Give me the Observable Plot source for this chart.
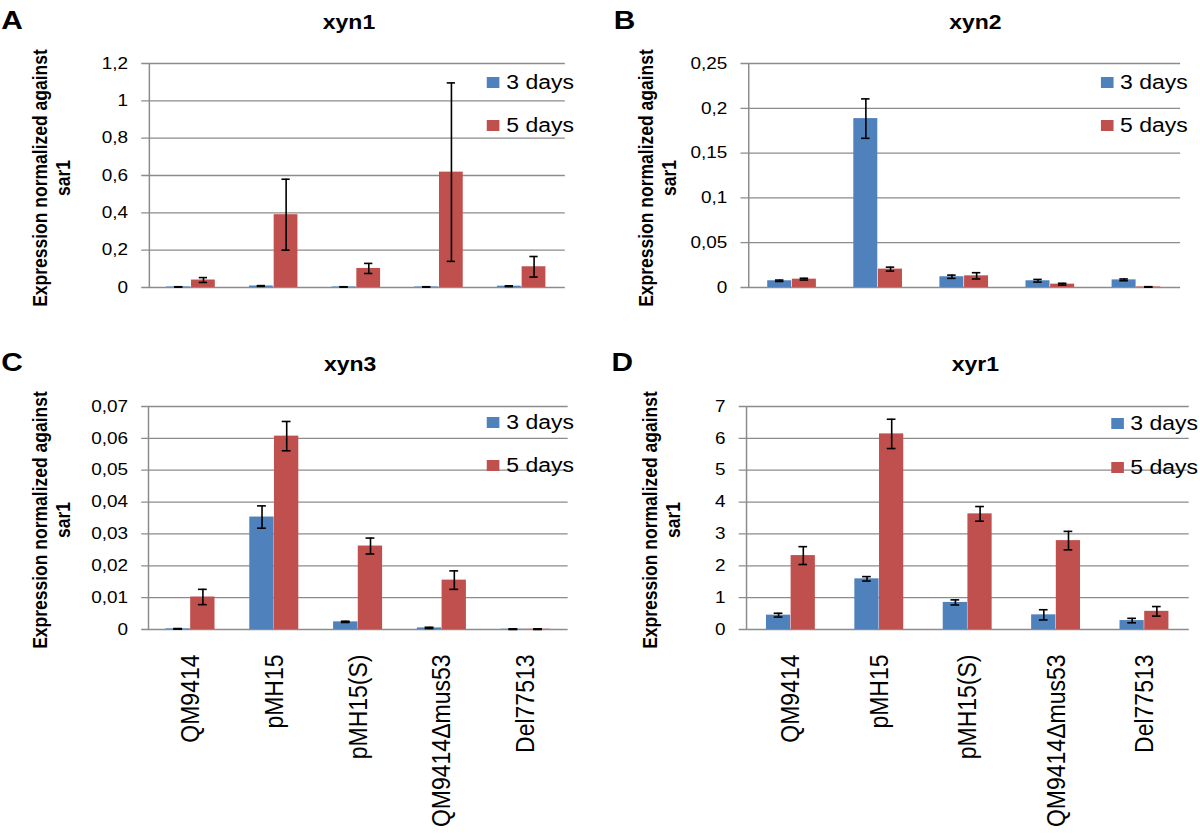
<!DOCTYPE html>
<html>
<head>
<meta charset="utf-8">
<script src="https://cdn.jsdelivr.net/npm/d3@7"></script>
<script src="https://cdn.jsdelivr.net/npm/@observablehq/plot@0.6"></script>
<style>
  body { margin: 0; background: #fff; font-family: "Liberation Sans", Arial, Helvetica, sans-serif; }
  #outer { position: relative; width: 1200px; height: 835px; overflow: hidden; background: #fff; }
  #root { position: absolute; left: 0; top: 0; height: 835px; transform-origin: 0 0; }
  .abs { position: absolute; }
  .letter { font-weight: bold; font-size: 26px; line-height: 1; }
  .title { font-weight: bold; font-size: 20px; line-height: 1; transform: translateX(-50%); white-space: nowrap; }
  .ylab { font-weight: bold; font-size: 17.5px; line-height: 20px; text-align: center; width: 320px; height: 40px;
          transform: rotate(-90deg); transform-origin: 50% 50%; white-space: nowrap; }
  .leg { display: flex; align-items: center; font-size: 20px; line-height: 1; white-space: nowrap; }
  .sw { width: 11px; height: 11px; margin-right: 6px; flex: none; }
</style>
</head>
<body>
<div id="outer"><div id="root"></div></div>
<script>
// ---------- data ----------
const categories = ["QM9414", "pMH15", "pMH15(S)", "QM9414\u0394mus53", "Del77513"];
const seriesNames = ["3 days", "5 days"];
const seriesColors = ["#4f81bd", "#c0504d"];
const yAxisTitle = ["Expression normalized against", "sar1"];

// xyn1
const xyn1_3d = [0.003, 0.008, 0.003, 0.003, 0.007];
const xyn1_3d_err = [0.001, 0.002, 0.001, 0.001, 0.002];
const xyn1_5d = [0.04, 0.39, 0.102, 0.618, 0.111];
const xyn1_5d_err = [0.013, 0.19, 0.027, 0.478, 0.055];
const xyn1_ticks = [0, 0.2, 0.4, 0.6, 0.8, 1, 1.2];

// xyn2
const xyn2_3d = [0.0075, 0.1885, 0.012, 0.0075, 0.0085];
const xyn2_3d_err = [0.0008, 0.022, 0.0018, 0.0015, 0.001];
const xyn2_5d = [0.0093, 0.0205, 0.013, 0.0037, 0.0006];
const xyn2_5d_err = [0.001, 0.0022, 0.0035, 0.001, 0.0003];
const xyn2_ticks = [0, 0.05, 0.1, 0.15, 0.2, 0.25];

// xyn3
const xyn3_3d = [0.0002, 0.0353, 0.0024, 0.0005, 0.0001];
const xyn3_3d_err = [0.0001, 0.0035, 0.0002, 0.0002, 0.0001];
const xyn3_5d = [0.0102, 0.0607, 0.0262, 0.0155, 0.0001];
const xyn3_5d_err = [0.0024, 0.0046, 0.0025, 0.0029, 0.0001];
const xyn3_ticks = [0, 0.01, 0.02, 0.03, 0.04, 0.05, 0.06, 0.07];

// xyr1
const xyr1_3d = [0.45, 1.59, 0.85, 0.46, 0.28];
const xyr1_3d_err = [0.06, 0.07, 0.08, 0.16, 0.07];
const xyr1_5d = [2.32, 6.14, 3.63, 2.79, 0.57];
const xyr1_5d_err = [0.28, 0.46, 0.23, 0.29, 0.15];
const xyr1_ticks = [0, 1, 2, 3, 4, 5, 6, 7];

// ---------- rendering ----------
// The reference figure is stretched horizontally; draw in an unstretched
// coordinate space and stretch the whole page horizontally.
const S = 1.148;
const PW = 600 / S;           // panel width in drawing space
const GRID = "#8c8c8c";
const fmt = d => String(+d.toFixed(4)).replace(".", ",");
const root = document.getElementById("root");
root.style.width = (1200 / S) + "px";
root.style.transform = `scaleX(${S})`;

function addDiv(cls, text, style) {
  const el = document.createElement("div");
  el.className = "abs " + cls;
  if (text != null) el.textContent = text;
  Object.assign(el.style, style);
  root.appendChild(el);
  return el;
}

function makePanel(p) {
  const rows = [];
  categories.forEach((c, i) => {
    rows.push({cat: c, s: 0, v: p.v3[i], e: p.e3[i]});
    rows.push({cat: c, s: 1, v: p.v5[i], e: p.e5[i]});
  });
  const r3 = rows.filter(d => d.s === 0);
  const r5 = rows.filter(d => d.s === 1);
  const width = PW;
  const mr = width - p.plotEnd;
  const bw = (width - p.ml - mr) / categories.length;
  const h = bw / 2, bar = 21.5, cap = 8;
  const yMax = p.ticks[p.ticks.length - 1];

  const errMarks = (data, off) => [
    Plot.ruleX(data, {x: "cat", y1: d => d.v - d.e, y2: d => d.v + d.e, dx: off, stroke: "black", strokeWidth: 1.4}),
    Plot.tickY(data, {x: "cat", y: d => d.v + d.e, insetLeft: h + off - cap / 2, insetRight: h - off - cap / 2, stroke: "black", strokeWidth: 1.6}),
    Plot.tickY(data, {x: "cat", y: d => d.v - d.e, insetLeft: h + off - cap / 2, insetRight: h - off - cap / 2, stroke: "black", strokeWidth: 1.6})
  ];

  const marks = [
    Plot.ruleY(p.ticks, {stroke: GRID, strokeWidth: 1.3, insetLeft: -5}),
    Plot.ruleX([categories[0]], {x: d => d, y1: 0, y2: yMax, dx: -h, stroke: GRID, strokeWidth: 1.3}),
    Plot.barY(r3, {x: "cat", y: "v", fill: seriesColors[0], insetLeft: h - bar, insetRight: h}),
    Plot.barY(r5, {x: "cat", y: "v", fill: seriesColors[1], insetLeft: h, insetRight: h - bar}),
    ...errMarks(r3, -bar / 2),
    ...errMarks(r5, bar / 2),
    Plot.axisY({ticks: p.ticks, tickFormat: fmt, tickSize: 0, tickPadding: 17, fontSize: 16.5, label: null})
  ];
  if (p.showX) {
    marks.push(Plot.axisX({tickRotate: -90, tickSize: 0, tickPadding: 25, fontSize: 23, label: null}));
  }
  const chart = Plot.plot({
    width, height: p.height,
    marginLeft: p.ml, marginRight: mr, marginTop: p.mt, marginBottom: p.mb,
    style: {fontFamily: "'Liberation Sans', Arial, Helvetica, sans-serif", background: "transparent", overflow: "visible", color: "black"},
    x: {type: "band", domain: categories, padding: 0, axis: p.showX ? undefined : null, label: null},
    y: {domain: [0, yMax], label: null},
    marks
  });
  const wrap = document.createElement("div");
  wrap.className = "abs";
  wrap.style.left = p.left + "px";
  wrap.style.top = p.top + "px";
  wrap.appendChild(chart);
  root.appendChild(wrap);

  // panel letter, title, y title, legend (offsets relative to panel)
  const L = p.left;
  addDiv("letter", p.letter, {left: (L + p.letterX) + "px", top: p.letterY + "px"});
  addDiv("title", p.title, {left: (L + p.titleX) + "px", top: p.titleY + "px"});
  const yl = addDiv("ylab", null, {left: (L + p.ylabX - 160) + "px", top: (p.ylabY - 20) + "px"});
  yl.innerHTML = yAxisTitle[0] + "<br>" + yAxisTitle[1];
  seriesNames.forEach((s, i) => {
    const lg = addDiv("leg", null, {left: (L + p.legX) + "px", top: (p.legY[i] - 10) + "px", height: "20px"});
    const sw = document.createElement("div");
    sw.className = "sw"; sw.style.background = seriesColors[i];
    const tx = document.createElement("span"); tx.textContent = s;
    lg.appendChild(sw); lg.appendChild(tx);
  });
}

makePanel({letter: "A", title: "xyn1", v3: xyn1_3d, e3: xyn1_3d_err, v5: xyn1_5d, e5: xyn1_5d_err, ticks: xyn1_ticks,
  left: 0, top: 0, height: 300, ml: 128, plotEnd: 492, mt: 63, mb: 13, showX: false,
  letterX: 1, letterY: 7, titleX: 304, titleY: 12, ylabX: 45, ylabY: 178, legX: 424, legY: [82, 125]});

makePanel({letter: "B", title: "xyn2", v3: xyn2_3d, e3: xyn2_3d_err, v5: xyn2_5d, e5: xyn2_5d_err, ticks: xyn2_ticks,
  left: PW, top: 0, height: 300, ml: 127, plotEnd: 505, mt: 63, mb: 13, showX: false,
  letterX: 12, letterY: 7, titleX: 327, titleY: 12, ylabX: 50, ylabY: 178, legX: 436, legY: [82, 125]});

makePanel({letter: "C", title: "xyn3", v3: xyn3_3d, e3: xyn3_3d_err, v5: xyn3_5d, e5: xyn3_5d_err, ticks: xyn3_ticks,
  left: 0, top: 300, height: 535, ml: 128, plotEnd: 494.5, mt: 106, mb: 206, showX: true,
  letterX: 1, letterY: 349, titleX: 305, titleY: 354, ylabX: 45, ylabY: 520, legX: 424, legY: [422, 465]});

makePanel({letter: "D", title: "xyr1", v3: xyr1_3d, e3: xyr1_3d_err, v5: xyr1_5d, e5: xyr1_5d_err, ticks: xyr1_ticks,
  left: PW, top: 300, height: 535, ml: 125.5, plotEnd: 512.5, mt: 106, mb: 206, showX: true,
  letterX: 10, letterY: 349, titleX: 327, titleY: 354, ylabX: 53, ylabY: 520, legX: 445, legY: [423, 467]});
</script>
</body>
</html>
